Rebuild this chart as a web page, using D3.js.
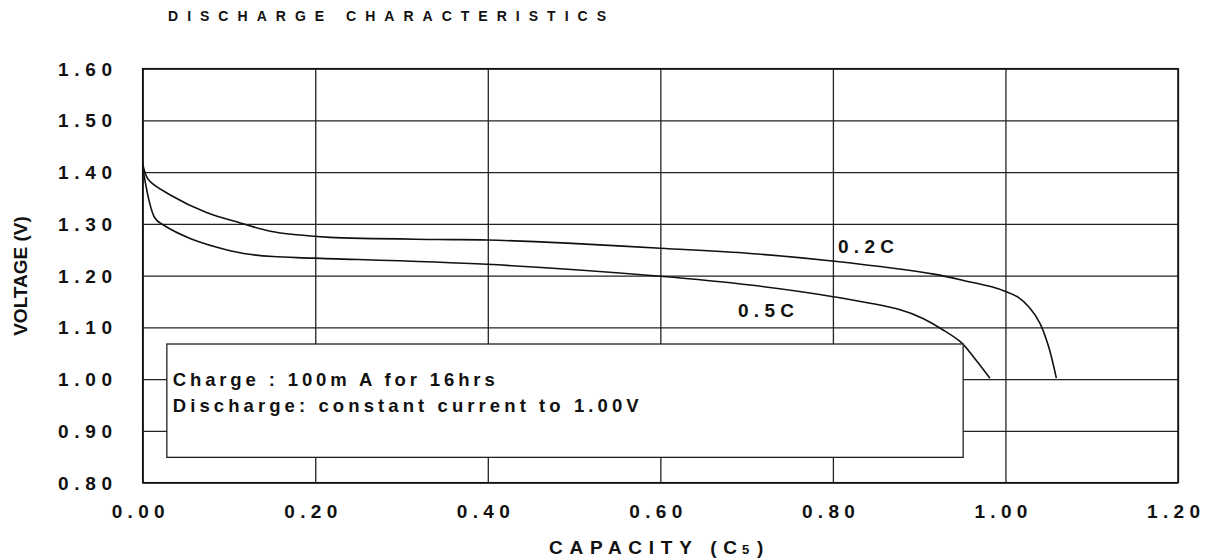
<!DOCTYPE html>
<html>
<head>
<meta charset="utf-8">
<script src="https://cdn.jsdelivr.net/npm/d3@7"></script>
<style>
  body { margin: 0; background: #fff; }
  text { font-family: Arial, "Liberation Sans", sans-serif; fill: #111; }
</style>
</head>
<body>
<svg width="1214" height="560"></svg>
<script>
// tick values
const capTicks = [0, 0.2, 0.4, 0.6, 0.8, 1.0, 1.2];
const voltTicks = [0.8, 0.9, 1.0, 1.1, 1.2, 1.3, 1.4, 1.5, 1.6];

// 0.2C discharge curve
const cap02 = [0, 0.0065, 0.032, 0.074, 0.113, 0.148, 0.179, 0.217, 0.341, 0.399, 0.492, 0.600, 0.704, 0.802, 0.917, 0.959, 0.985, 1.001, 1.015, 1.028, 1.040, 1.050, 1.059];
const volt02 = [1.417, 1.386, 1.356, 1.322, 1.302, 1.286, 1.279, 1.274, 1.270, 1.269, 1.263, 1.253, 1.243, 1.228, 1.203, 1.188, 1.178, 1.169, 1.158, 1.138, 1.108, 1.063, 1.002];

// 0.5C discharge curve
const cap05 = [0, 0.0143, 0.024, 0.055, 0.086, 0.117, 0.151, 0.198, 0.399, 0.600, 0.704, 0.802, 0.878, 0.905, 0.925, 0.948, 0.963, 0.982];
const volt05 = [1.41, 1.311, 1.298, 1.272, 1.255, 1.243, 1.237, 1.234, 1.222, 1.199, 1.182, 1.159, 1.134, 1.117, 1.098, 1.072, 1.043, 1.002];

const notes = ["Charge : 100m A for 16hrs", "Discharge: constant current to 1.00V"];

// //////////////////////////////////////////////

const mLeft = 142.7, mTop = 68.7, mRight = 1178, mBottom = 482.7;
const x = d3.scaleLinear().domain([0, 1.2]).range([mLeft, mRight]);
const y = d3.scaleLinear().domain([0.8, 1.6]).range([mBottom, mTop]);
const fmt = d3.format(".2f");

const svg = d3.select("svg");

// gridlines
svg.append("g")
   .attr("transform", "translate(0," + mBottom + ")")
   .call(d3.axisBottom(x).tickValues(capTicks).tickSize(-(mBottom - mTop)).tickFormat(""))
   .call(g => g.select(".domain").remove())
   .selectAll("line").attr("stroke", "#222").attr("stroke-width", 1.3);

svg.append("g")
   .attr("transform", "translate(" + mLeft + ",0)")
   .call(d3.axisLeft(y).tickValues(voltTicks).tickSize(-(mRight - mLeft)).tickFormat(""))
   .call(g => g.select(".domain").remove())
   .selectAll("line").attr("stroke", "#222").attr("stroke-width", 1.3);

svg.append("rect")
   .attr("x", mLeft).attr("y", mTop)
   .attr("width", mRight - mLeft).attr("height", mBottom - mTop)
   .attr("fill", "none").attr("stroke", "#111").attr("stroke-width", 1.5);

// tick labels
svg.selectAll(".ylab")
   .data(voltTicks)
   .enter().append("text")
   .attr("x", 58).attr("y", d => y(d) + 7)
   .attr("textLength", 54).attr("lengthAdjust", "spacing")
   .style("font-size", "19px").style("font-weight", "bold")
   .text(d => fmt(d));

svg.selectAll(".xlab")
   .data(capTicks)
   .enter().append("text")
   .attr("x", d => x(d) - 31).attr("y", 517.7)
   .attr("textLength", 53).attr("lengthAdjust", "spacing")
   .style("font-size", "19px").style("font-weight", "bold")
   .text(d => fmt(d));

// curves
const line = d3.line()
   .x(d => x(d[0]))
   .y(d => y(d[1]))
   .curve(d3.curveCatmullRom.alpha(0.5));

svg.append("path")
   .attr("d", line(d3.zip(cap02, volt02)))
   .attr("fill", "none").attr("stroke", "#111").attr("stroke-width", 1.6);

svg.append("path")
   .attr("d", line(d3.zip(cap05, volt05)))
   .attr("fill", "none").attr("stroke", "#111").attr("stroke-width", 1.6);

// conditions box
svg.append("rect")
   .attr("x", x(0.028)).attr("y", y(1.068))
   .attr("width", x(0.951) - x(0.028)).attr("height", y(0.849) - y(1.068))
   .attr("fill", "#fff").attr("stroke", "#222").attr("stroke-width", 1.3);

svg.selectAll(".note")
   .data(notes)
   .enter().append("text")
   .attr("x", 172.7).attr("y", (d, i) => 385.5 + i * 26)
   .attr("textLength", (d, i) => i ? 466 : 322).attr("lengthAdjust", "spacing")
   .style("font-size", "18.5px").style("font-weight", "bold")
   .text(d => d);

// curve labels
svg.append("text").attr("x", 838).attr("y", 253.3)
   .attr("textLength", 56).attr("lengthAdjust", "spacing")
   .style("font-size", "19px").style("font-weight", "bold").text("0.2C");
svg.append("text").attr("x", 738).attr("y", 316.7)
   .attr("textLength", 56).attr("lengthAdjust", "spacing")
   .style("font-size", "19px").style("font-weight", "bold").text("0.5C");

// titles
svg.append("text").attr("x", 168).attr("y", 20.5)
   .attr("textLength", 438).attr("lengthAdjust", "spacing")
   .style("font-size", "14px").style("font-weight", "bold")
   .text("DISCHARGE CHARACTERISTICS");

svg.append("text")
   .attr("transform", "translate(27,276) rotate(-90)")
   .attr("text-anchor", "middle")
   .style("font-size", "19px").style("font-weight", "bold")
   .text("VOLTAGE (V)");

svg.append("text").attr("x", 549).attr("y", 554)
   .attr("textLength", 188).attr("lengthAdjust", "spacing")
   .style("font-size", "19px").style("font-weight", "bold")
   .text("CAPACITY (C");
svg.append("text").attr("x", 742).attr("y", 554)
   .style("font-size", "13px").style("font-weight", "bold").text("5");
svg.append("text").attr("x", 757).attr("y", 554)
   .style("font-size", "19px").style("font-weight", "bold").text(")");
</script>
</body>
</html>
